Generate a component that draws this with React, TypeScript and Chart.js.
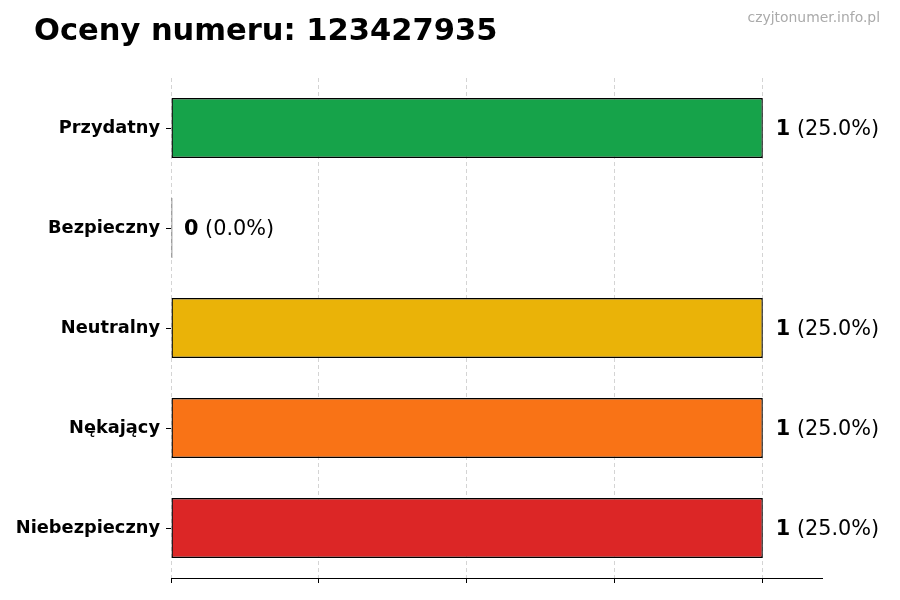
import React, { useEffect, useRef } from 'react';
import Chart, { ChartConfiguration, Plugin } from 'chart.js/auto';

const categories = ['Przydatny', 'Bezpieczny', 'Neutralny', 'Nękający', 'Niebezpieczny'];
const counts = [1, 0, 1, 1, 1];
const barColors = ['#16a34a', '#2563eb', '#eab308', '#f97316', '#dc2626'];
const xTicks = [0, 0.25, 0.5, 0.75, 1];
const xMax = 1.1;

const titleText = 'Oceny numeru: 123427935';
const watermark = 'czyjtonumer.info.pl';
const FONT = "'DejaVu Sans', sans-serif";

const total = counts.reduce((a, b) => a + b, 0);

// white background + title + watermark
const decorPlugin: Plugin<'bar'> = {
  id: 'decor',
  beforeDraw(chart) {
    const { ctx, width, height } = chart;
    ctx.save();
    ctx.fillStyle = '#ffffff';
    ctx.fillRect(0, 0, width, height);
    ctx.restore();
  },
  afterDraw(chart) {
    const { ctx } = chart;
    ctx.save();
    ctx.textBaseline = 'alphabetic';
    ctx.fillStyle = '#000000';
    ctx.font = `bold 30.5px ${FONT}`;
    ctx.textAlign = 'left';
    ctx.fillText(titleText, 34, 40);
    ctx.fillStyle = '#aaaaaa';
    ctx.font = `13.9px ${FONT}`;
    ctx.textAlign = 'right';
    ctx.fillText(watermark, 880, 22);
    ctx.restore();
  },
};

// "1 (25.0%)" next to every bar
const valueLabels: Plugin<'bar'> = {
  id: 'valueLabels',
  afterDatasetsDraw(chart) {
    const { ctx } = chart;
    const meta = chart.getDatasetMeta(0);
    ctx.save();
    ctx.textBaseline = 'middle';
    ctx.textAlign = 'left';
    ctx.fillStyle = '#000000';
    meta.data.forEach((bar, i) => {
      const v = counts[i];
      const pct = total ? (v / total) * 100 : 0;
      const x0 = chart.scales.x.getPixelForValue(v) + 13;
      const y = bar.y + 1.5;
      ctx.font = `bold 20.8px ${FONT}`;
      const num = String(v);
      ctx.fillText(num, x0, y);
      const w = ctx.measureText(num).width;
      ctx.font = `20.8px ${FONT}`;
      ctx.fillText(` (${pct.toFixed(1)}%)`, x0 + w, y);
    });
    ctx.restore();
  },
};

const App: React.FC = () => {
  const chartRef = useRef<HTMLCanvasElement | null>(null);
  const chartInstance = useRef<Chart | null>(null);

  useEffect(() => {
    if (!chartRef.current) return;
    const ctx = chartRef.current.getContext('2d');
    if (!ctx) return;

    const config: ChartConfiguration<'bar'> = {
      type: 'bar',
      data: {
        labels: categories,
        datasets: [
          {
            data: counts,
            backgroundColor: barColors,
            borderColor: '#000000',
            borderWidth: 1.4,
            borderSkipped: false,
            minBarLength: 1.4,
            categoryPercentage: 0.6,
            barPercentage: 1,
          },
        ],
      },
      options: {
        indexAxis: 'y',
        animation: false,
        responsive: true,
        maintainAspectRatio: false,
        devicePixelRatio: 1,
        layout: { padding: { left: 0, top: 78, right: 78, bottom: 0 } },
        plugins: {
          legend: { display: false },
          title: { display: false },
          tooltip: { enabled: false },
        },
        scales: {
          x: {
            type: 'linear',
            min: 0,
            max: xMax,
            z: 1,
            afterBuildTicks: (scale) => {
              scale.ticks = xTicks.map((value) => ({ value }));
            },
            afterFit: (scale) => {
              scale.height = 22;
            },
            ticks: { display: false },
            grid: {
              color: 'rgba(0,0,0,0.17)',
              lineWidth: 1,
              drawTicks: true,
              tickLength: 5,
              tickColor: '#000000',
            },
            border: { display: true, color: '#000000', width: 1, dash: [4, 3] },
          },
          y: {
            afterFit: (scale) => {
              scale.width = 171;
            },
            ticks: {
              color: '#000000',
              padding: 6,
              font: { family: FONT, size: 17.8, weight: 'bold' },
            },
            grid: {
              offset: false,
              drawOnChartArea: false,
              drawTicks: true,
              tickLength: 5,
              tickColor: '#000000',
            },
            border: { display: false },
          },
        },
      },
      plugins: [decorPlugin, valueLabels],
    };

    chartInstance.current = new Chart(ctx, config);

    return () => {
      if (chartInstance.current) {
        chartInstance.current.destroy();
        chartInstance.current = null;
      }
    };
  }, []);

  return (
    <div style={{ position: 'absolute', left: 0, top: 0, width: 900, height: 600 }}>
      <canvas ref={chartRef} />
    </div>
  );
};

export default App;
